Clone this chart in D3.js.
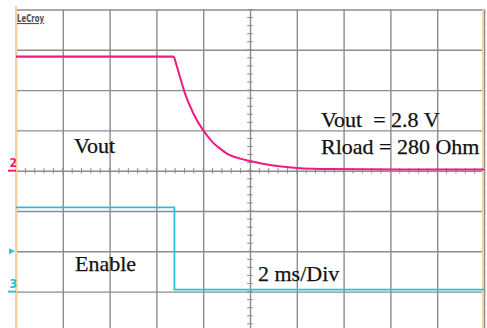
<!DOCTYPE html>
<html>
<head>
<meta charset="utf-8">
<script src="https://cdn.jsdelivr.net/npm/d3@7"></script>
<style>
  body { margin: 0; background: #fff; }
  svg { display: block; }
  text { white-space: pre; }
</style>
</head>
<body>
<svg width="487" height="328"></svg>
<script>
// scope data: time in ms (2 ms/div, trigger at centre), volts at 1 V/div
const timeMs = [-10, -3.25, -3.12, -2.99, -2.78, -2.42, -2.02, -1.79, -1.57, -1.28, -1.00, -0.43, 0, 0.85, 2.0, 3.4, 6.4, 10];
const vout   = [2.83, 2.83, 2.58, 2.32, 1.92, 1.42, 1.02, 0.84, 0.69, 0.55, 0.43, 0.30, 0.24, 0.14, 0.07, 0.04, 0.03, 0.03];

const enableTime = [-10, -3.23, 10];
const enable     = [2.09, 0.05, 0.05];

const timeTicks = d3.range(-10, 10.01, 2);   // major divisions
const voltTicks = d3.range(-4, 4.01, 1);

const labels = [
    { text: 'Vout', x: 74, y: 153 },
    { text: 'Enable', x: 75, y: 271 },
    { text: 'Vout  = 2.8 V', x: 321, y: 126.5 },
    { text: 'Rload = 280 Ohm', x: 321, y: 153.5 },
    { text: '2 ms/Div', x: 258, y: 280.5 }
];

const svg = d3.select('svg');

const scrLeft = 16, scrRight = 484, scrTop = 9.5, divH = 40.3;
const scrBottom = scrTop + 8 * divH;

const x = d3.scaleLinear().domain([-10, 10]).range([scrLeft, scrRight]);
// channel 2 ground at centre, channel 3 ground 3 divs lower
const y2 = d3.scaleLinear().domain([-4, 4]).range([scrBottom, scrTop]);
const y3 = d3.scaleLinear().domain([-1, 7]).range([scrBottom, scrTop]);

const gridColor = '#8c8c8c';

// vertical grid
svg.append('g')
    .attr('transform', `translate(0,${scrTop})`)
    .call(d3.axisBottom(x).tickValues(timeTicks).tickSize(scrBottom - scrTop).tickFormat(''))
    .call(g => g.select('.domain').remove())
    .call(g => g.selectAll('line').attr('stroke', gridColor).attr('stroke-width', 1.4));

// horizontal grid
svg.append('g')
    .attr('transform', `translate(${scrLeft},0)`)
    .call(d3.axisRight(y2).tickValues(voltTicks).tickSize(scrRight - scrLeft).tickFormat(''))
    .call(g => g.select('.domain').remove())
    .call(g => g.selectAll('line').attr('stroke', gridColor).attr('stroke-width', 1.4));

// minor ticks on centre cross
const minorX = d3.range(-10, 10.01, 0.4);
const minorY = d3.range(-4, 4.01, 0.2);
svg.append('g')
    .selectAll('line')
    .data(minorX)
    .enter()
    .append('line')
    .attr('x1', d => x(d)).attr('x2', d => x(d))
    .attr('y1', y2(0) - 2.8).attr('y2', y2(0) + 2.8)
    .attr('stroke', gridColor).attr('stroke-width', 1);
svg.append('g')
    .selectAll('line')
    .data(minorY)
    .enter()
    .append('line')
    .attr('y1', d => y2(d)).attr('y2', d => y2(d))
    .attr('x1', x(0) - 2.8).attr('x2', x(0) + 2.8)
    .attr('stroke', gridColor).attr('stroke-width', 1);

// screen edges
svg.append('line').attr('x1', scrLeft).attr('x2', scrLeft).attr('y1', 6).attr('y2', 328)
    .attr('stroke', '#fbcf9f').attr('stroke-width', 2);
svg.append('line').attr('x1', scrRight - 1).attr('x2', scrRight - 1).attr('y1', scrTop).attr('y2', 328)
    .attr('stroke', '#fbcf9f').attr('stroke-width', 2);
svg.append('line').attr('x1', scrRight + 1.5).attr('x2', scrRight + 1.5).attr('y1', scrTop).attr('y2', 328)
    .attr('stroke', '#d8d8d8').attr('stroke-width', 1).attr('stroke-dasharray', '6,4');

// traces
const pink = '#f2197f', cyan = '#26c3d3';

// flat part before the fall, then the decay drawn smooth
const voutFlat = d3.line()
    .x((d, i) => x(timeMs[i]))
    .y(d => y2(d));
svg.append('path')
    .attr('d', voutFlat(vout.slice(0, 2)))
    .attr('fill', 'none')
    .attr('stroke', pink)
    .attr('stroke-width', 2.2);

const voutDecay = d3.line()
    .x((d, i) => x(timeMs[i + 1]))
    .y(d => y2(d))
    .curve(d3.curveMonotoneX);
svg.append('path')
    .attr('d', voutDecay(vout.slice(1)))
    .attr('fill', 'none')
    .attr('stroke', pink)
    .attr('stroke-width', 2);

const enableLine = d3.line()
    .x((d, i) => x(enableTime[i]))
    .y(d => y3(d))
    .curve(d3.curveStepAfter);
svg.append('path')
    .attr('d', enableLine(enable))
    .attr('fill', 'none')
    .attr('stroke', cyan)
    .attr('stroke-width', 1.8);

// channel markers
svg.append('text').text('2').attr('x', 9.5).attr('y', 167)
    .attr('font-family', 'DejaVu Sans Condensed, DejaVu Sans').attr('font-weight', 'bold')
    .attr('font-size', 12).attr('fill', pink);
svg.append('line').attr('x1', 8).attr('x2', scrLeft).attr('y1', y2(0)).attr('y2', y2(0))
    .attr('stroke', pink).attr('stroke-width', 2);
svg.append('text').text('3').attr('x', 9.5).attr('y', 288)
    .attr('font-family', 'DejaVu Sans Condensed, DejaVu Sans').attr('font-weight', 'bold')
    .attr('font-size', 12).attr('fill', cyan);
svg.append('line').attr('x1', 8).attr('x2', scrLeft).attr('y1', y3(0)).attr('y2', y3(0))
    .attr('stroke', cyan).attr('stroke-width', 2);
svg.append('path')
    .attr('d', `M9,${y2(-2) - 3}L15,${y2(-2)}L9,${y2(-2) + 3}Z`)
    .attr('fill', cyan);

// LeCroy logo
svg.append('text').text('LeCroy').attr('x', 17).attr('y', 22)
    .attr('font-family', 'DejaVu Sans Condensed, DejaVu Sans')
    .attr('font-size', 11).attr('font-weight', 'bold')
    .attr('textLength', 27).attr('lengthAdjust', 'spacingAndGlyphs')
    .attr('fill', '#505050')
    .attr('text-decoration', 'underline');

// annotations
svg.selectAll('text.note')
    .data(labels)
    .enter()
    .append('text')
    .attr('class', 'note')
    .attr('x', d => d.x)
    .attr('y', d => d.y)
    .attr('font-family', 'Liberation Serif, Times New Roman, serif')
    .attr('font-size', 22)
    .attr('fill', '#111')
    .attr('stroke', '#111')
    .attr('stroke-width', 0.25)
    .text(d => d.text);
</script>
</body>
</html>
